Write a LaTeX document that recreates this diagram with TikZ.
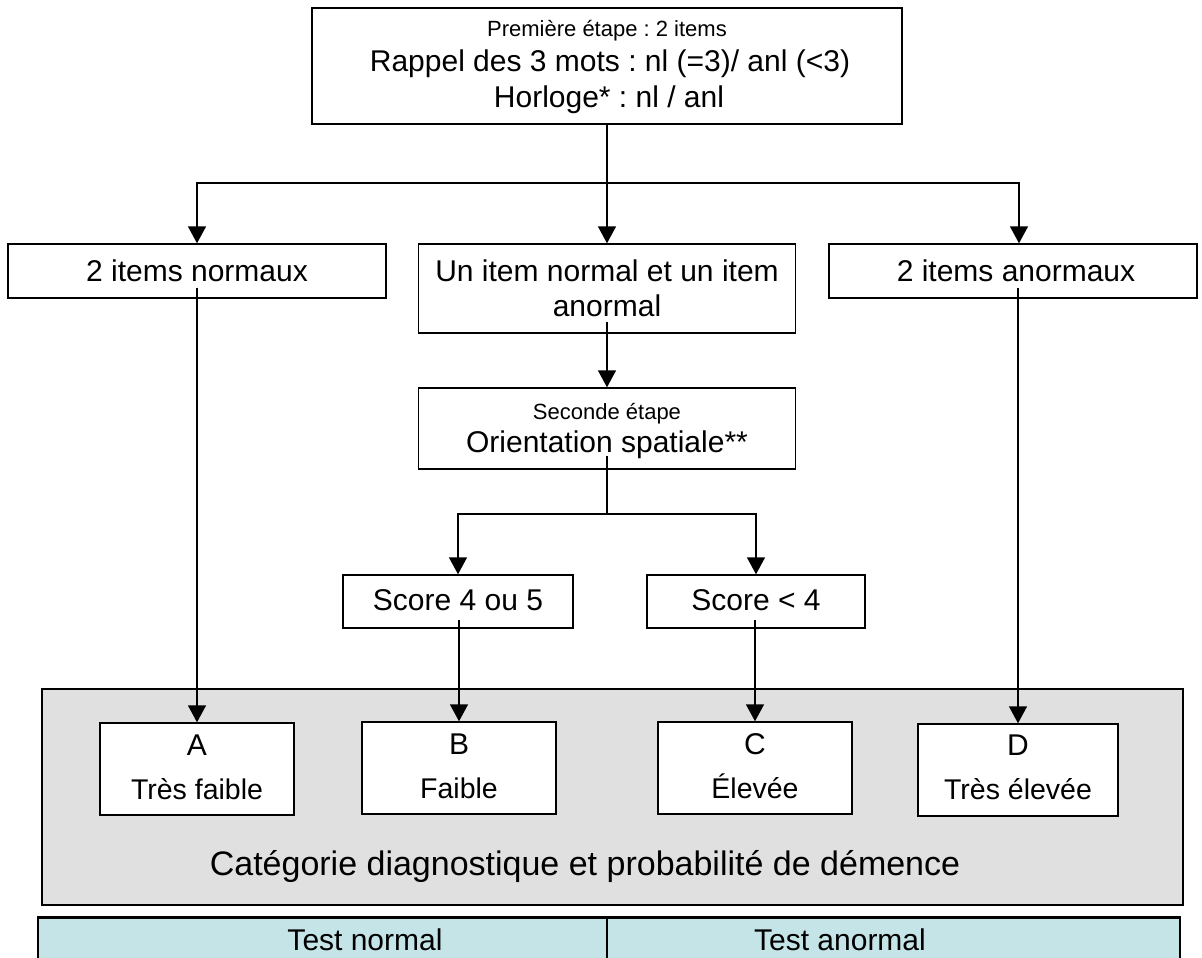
\documentclass[tikz,border=0pt]{standalone}
\usepackage{fontspec}
\setmainfont{Liberation Sans}
\usetikzlibrary{arrows.meta,calc}
\frenchspacing
\newcommand\myfs[1]{\fontsize{#1}{#1}\selectfont}
\definecolor{greyfill}{HTML}{E0E0E0}
\definecolor{tabfill}{HTML}{C5E4E8}
\tikzset{
  box/.style={draw=black, fill=white, line width=1.4pt, inner sep=0pt},
  txt/.style={inner sep=0pt, anchor=base, text=black},
  big/.style={txt, font=\myfs{30}},
  small/.style={txt, font=\myfs{22}},
  mid/.style={txt, font=\myfs{28.5}},
  conn/.style={line width=1.5pt, draw=black},
  arr/.style={conn, -{Triangle[length=17pt,width=18pt]}}
}
\begin{document}
\begin{tikzpicture}[x=1pt,y=-1pt]
\useasboundingbox (0,0) rectangle (1202,958);
% top box
\node[box, minimum width=590pt, minimum height=116pt] (top) at (607,66) {};
\node[small] (t1) at (607,37) {Première étape : 2 items};
\node[big] (t2) at (610,72) {Rappel des 3 mots : nl (=3)/ anl (<3)};
\node[big] (t3) at (609,107) {Horloge* : nl / anl};
% second row
\node[box, minimum width=378pt, minimum height=54pt] (n1) at (197,271) {};
\node[big] (n1t) at (197,281) {2 items normaux};
\node[box, minimum width=377pt, minimum height=89pt] (n2) at (607,288.5) {};
\node[big] (n2a) at (607,281) {Un item normal et un item};
\node[big] (n2b) at (607,316) {anormal};
\node[box, minimum width=368pt, minimum height=54pt] (n3) at (1013,271) {};
\node[big] (n3t) at (1016,281) {2 items anormaux};
% second step
\node[box, minimum width=377pt, minimum height=81pt] (sec) at (607,428.5) {};
\node[small] (sect) at (607,419) {Seconde étape};
\node[big] (secb) at (607,452) {Orientation spatiale**};
% scores
\node[box, minimum width=230pt, minimum height=53pt] (sc1) at (458,601.5) {};
\node[big] (sc1t) at (458,610) {Score 4 ou 5};
\node[box, minimum width=218pt, minimum height=53pt] (sc2) at (756,601.5) {};
\node[big] (sc2t) at (756,610) {Score < 4};
% grey category box
\node[draw=black, fill=greyfill, line width=1.6pt, inner sep=0pt, minimum width=1141pt, minimum height=216pt] (cat) at (612.5,797) {};
\node[txt, font=\myfs{34}] (catt) at (585,875) {Catégorie diagnostique et probabilité de démence};
% A-D
\node[box, minimum width=194pt, minimum height=92pt] (A) at (197,769) {};
\node[big] (Al) at (197,755) {A};
\node[mid] (At) at (197,799) {Très faible};
\node[box, minimum width=194pt, minimum height=92pt] (B) at (459,768) {};
\node[big] (Bl) at (459,754) {B};
\node[mid] (Bt) at (459,798) {Faible};
\node[box, minimum width=194pt, minimum height=92pt] (C) at (755,768) {};
\node[big] (Cl) at (755,754) {C};
\node[mid] (Ct) at (755,798) {Élevée};
\node[box, minimum width=200pt, minimum height=92pt] (D) at (1018,770) {};
\node[big] (Dl) at (1018,755) {D};
\node[mid] (Dt) at (1018,799) {Très élevée};
% bottom table
\node[draw=black, fill=tabfill, line width=1.6pt, inner sep=0pt, minimum width=1142pt, minimum height=60pt, anchor=north west] (tab) at (37,917) {};
\draw[line width=2.4pt] (tab.north west) -- (tab.north east);
\draw[line width=1.4pt] (tab.north -| 607,0) -- (tab.south -| 607,0);
\node[big] (tn) at (365,950) {Test normal};
\node[big] (ta) at (840,950) {Test anormal};
% connectors
\coordinate (s1) at (607,183);
\coordinate (s1l) at (197,183);
\coordinate (s1r) at (1019,183);
\draw[conn] (top.south) -- (s1);
\draw[arr] (s1) -- (s1l) -- (s1l |- n1.north);
\draw[arr] (s1) -- (n2.north);
\draw[arr] (s1) -- (s1r) -- (s1r |- n3.north);
\draw[arr] ([yshift=11pt]n1.south) -- (A.north);
\draw[arr] ([yshift=11pt]n3.south -| D.north) -- (D.north);
\draw[arr] ([yshift=12pt]n2.south) -- (sec.north);
\coordinate (s2) at (607,514);
\draw[conn] ([yshift=14pt]sec.south) -- (s2);
\draw[arr] (s2) -| (sc1.north);
\draw[arr] (s2) -| (sc2.north);
\draw[arr] ([yshift=9pt]sc1.south -| B.north) -- (B.north);
\draw[arr] ([yshift=9pt]sc2.south -| C.north) -- (C.north);
\end{tikzpicture}
\end{document}
